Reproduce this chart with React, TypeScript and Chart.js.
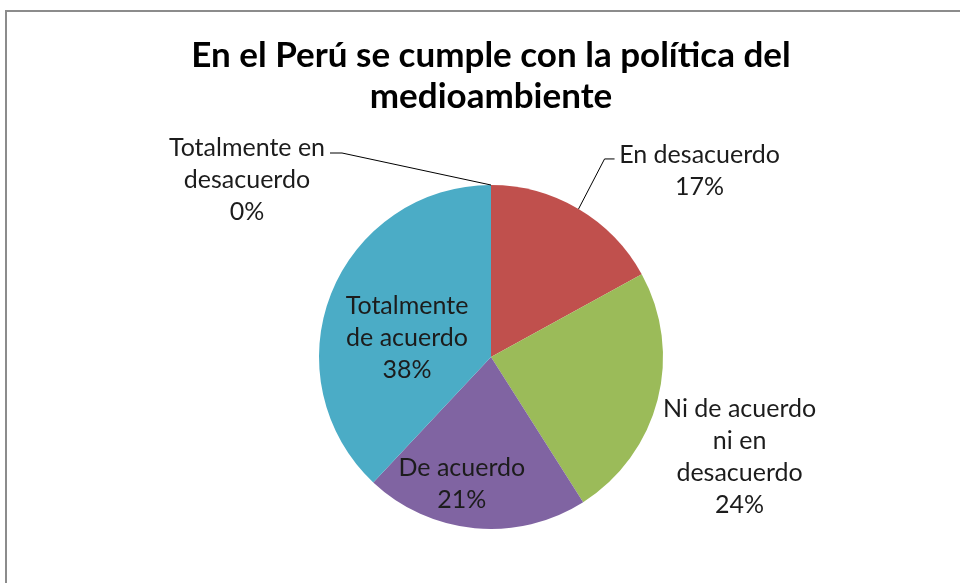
import React, { useEffect, useRef } from "react";
import { Chart, registerables } from "chart.js";

Chart.register(...registerables);

const TITLE_LINES = ["En el Perú se cumple con la política del", "medioambiente"];
const CATEGORIES = [
  "Totalmente en desacuerdo",
  "En desacuerdo",
  "Ni de acuerdo ni en desacuerdo",
  "De acuerdo",
  "Totalmente de acuerdo",
];
const VALUES = [0, 17, 24, 21, 38];
const PERCENT_LABELS = ["0%", "17%", "24%", "21%", "38%"];
const LABEL_LINES = [
  ["Totalmente en", "desacuerdo"],
  ["En desacuerdo"],
  ["Ni de acuerdo", "ni en", "desacuerdo"],
  ["De acuerdo"],
  ["Totalmente", "de acuerdo"],
];
const COLORS = ["#4F81BD", "#C0504D", "#9BBB59", "#8064A2", "#4BACC6"];

// label placement: distance factor from centre along mid-angle, pixel nudge, leader line
type Place = { r: number; dx: number; dy: number; leader?: { ex: number; ey: number; stub: number } };
const PLACES: Place[] = [
  { r: 1.0, dx: -244, dy: -5, leader: { ex: -149, ey: -32, stub: -12 } },
  { r: 1.0, dx: 121, dy: -38, leader: { ex: 26, ey: -50, stub: 10 } },
  { r: 1.3, dx: 32, dy: 44 },
  { r: 0.75, dx: -17, dy: -1 },
  { r: 0.5, dx: -4, dy: 13 },
];

const FONT = "Lato, 'Open Sans', sans-serif";

const framePlugin = {
  id: "frame",
  beforeDraw(chart: any) {
    const ctx = chart.ctx;
    ctx.save();
    ctx.fillStyle = "#ffffff";
    ctx.fillRect(0, 0, chart.width, chart.height);
    ctx.strokeStyle = "#8c8c8c";
    ctx.lineWidth = 2;
    ctx.strokeRect(6, 11, chart.width + 50, chart.height + 50);
    ctx.restore();
  },
};

const titlePlugin = {
  id: "bigTitle",
  afterDraw(chart: any) {
    const ctx = chart.ctx;
    const meta = chart.getDatasetMeta(0);
    const cx = meta.data.length ? meta.data[0].x : chart.width / 2;
    ctx.save();
    ctx.font = `bold 35px ${FONT}`;
    ctx.fillStyle = "#000000";
    ctx.textAlign = "center";
    ctx.textBaseline = "alphabetic";
    const baseline0 = 67;
    const lh = 41;
    TITLE_LINES.forEach((t, k) => ctx.fillText(t, cx, baseline0 + k * lh));
    ctx.restore();
  },
};

const labelPlugin = {
  id: "pieLabels",
  afterDatasetsDraw(chart: any) {
    const ctx = chart.ctx;
    const meta = chart.getDatasetMeta(0);
    const lineH = 32;
    ctx.save();
    ctx.font = `25px ${FONT}`;
    ctx.fillStyle = "#1c1c1c";
    ctx.textAlign = "center";
    ctx.textBaseline = "middle";
    meta.data.forEach((arc: any, i: number) => {
      const { x, y, startAngle, endAngle, outerRadius } = arc.getProps(
        ["x", "y", "startAngle", "endAngle", "outerRadius"],
        true
      );
      const mid = (startAngle + endAngle) / 2;
      const p = PLACES[i];
      const ax = x + Math.cos(mid) * outerRadius * p.r;
      const ay = y + Math.sin(mid) * outerRadius * p.r;
      const lines = [...LABEL_LINES[i], PERCENT_LABELS[i]];
      const cx = ax + p.dx;
      const cy = ay + p.dy;
      const top = cy - ((lines.length - 1) * lineH) / 2;
      lines.forEach((t, k) => ctx.fillText(t, cx, top + k * lineH));
      if (p.leader) {
        const px = x + Math.cos(mid) * outerRadius;
        const py = y + Math.sin(mid) * outerRadius;
        ctx.strokeStyle = "#000000";
        ctx.lineWidth = 1;
        ctx.beginPath();
        ctx.moveTo(px, py);
        ctx.lineTo(px + p.leader.ex, py + p.leader.ey);
        ctx.lineTo(px + p.leader.ex + p.leader.stub, py + p.leader.ey);
        ctx.stroke();
      }
    });
    ctx.restore();
  },
};

export default function App() {
  const ref = useRef<HTMLCanvasElement>(null);
  useEffect(() => {
    if (!ref.current) return;
    const chart = new Chart(ref.current, {
      type: "pie",
      data: {
        labels: CATEGORIES,
        datasets: [
          {
            data: VALUES,
            backgroundColor: COLORS,
            borderWidth: 0,
          },
        ],
      },
      options: {
        responsive: false,
        animation: false,
        layout: { padding: { top: 185, left: 319, right: 297, bottom: 54 } },
        plugins: {
          legend: { display: false },
          tooltip: { enabled: false },
          title: { display: false },
        },
      },
      plugins: [framePlugin, titlePlugin, labelPlugin],
    });
    return () => chart.destroy();
  }, []);
  return (
    <div style={{ position: "absolute", left: 0, top: 0, width: 960, height: 583 }}>
      <canvas ref={ref} width={960} height={583} />
    </div>
  );
}
